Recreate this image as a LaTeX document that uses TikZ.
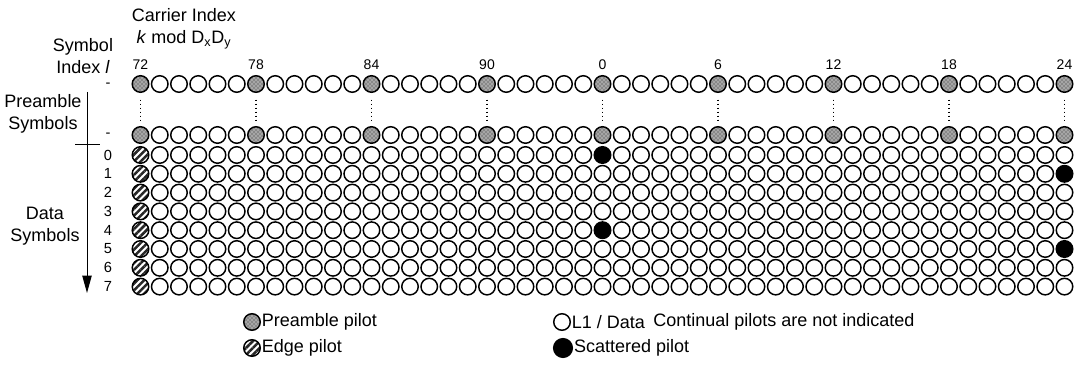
\documentclass[tikz,border=0pt]{standalone}
\usepackage{fontspec}
\setmainfont{Liberation Sans}
\usetikzlibrary{arrows.meta, positioning, patterns, patterns.meta}

\begin{document}
\begin{tikzpicture}[
    x=0.75pt, y=-0.75pt,
    font=\fontsize{13.5}{16.5}\selectfont,
    cell/.style={circle, draw, line width=1.1pt, minimum size=12.4pt, inner sep=0pt},
    prepilot/.style={cell, preaction={fill=gray!70}, pattern=crosshatch dots, pattern color=gray!30!black},
    edgepilot/.style={cell, pattern={Lines[angle=45, distance=3.6pt, line width=1.9pt]}, pattern color=black!85},
    scatpilot/.style={cell, fill=black},
    numlbl/.style={font=\fontsize{10.5}{12}\selectfont, inner sep=1pt},
    rowlbl/.style={font=\fontsize{11}{13}\selectfont, inner sep=1pt},
    dotline/.style={line width=1.1pt, dash pattern=on 1.2pt off 1.8pt, shorten <=5pt, shorten >=4pt},
    arrow/.style={-{Triangle[length=13pt, width=7pt]}, line width=0.75pt}
  ]
    \useasboundingbox (0,0) rectangle (1075,370);

    % preamble symbols
    \foreach \c in {0,...,48} {
      \pgfmathtruncatemacro{\cm}{mod(\c,6)}
      \ifnum\cm=0 \def\st{prepilot}\else\def\st{cell}\fi
      \node[\st] (pt-\c) at (140.5+19.25*\c, 84) {};
      \node[\st] (pb-\c) at (140.5+19.25*\c, 135) {};
    }
    \foreach \c in {0,6,...,48} {
      \pgfmathtruncatemacro{\k}{mod(72+\c,96)}
      \node[numlbl, above=3pt of pt-\c] (cl-\c) {\k};
      \draw[dotline] (pt-\c) -- (pb-\c);
    }
    \node[rowlbl] (rl-pt) at (108,85) {-};
    \node[rowlbl] (rl-pb) at (108,135) {-};

    % data symbols
    \foreach \r in {0,...,7} {
      \pgfmathtruncatemacro{\rq}{mod(\r,4)}
      \node[rowlbl] (rl-\r) at (108, 155+18.8*\r) {\r};
      \foreach \c in {0,...,48} {
        \def\st{cell}
        \ifnum\c=0 \def\st{edgepilot}\fi
        \ifnum\c=24 \ifnum\rq=0 \def\st{scatpilot}\fi\fi
        \ifnum\c=48 \ifnum\rq=1 \def\st{scatpilot}\fi\fi
        \node[\st] (d-\r-\c) at (140.5+19.25*\c, 155+18.8*\r) {};
      }
    }

    % axis labels
    \node[align=center] (carrier) at (184,29) {Carrier Index\\\textit{k} mod D\textsubscript{x}D\textsubscript{y}};
    \node[align=center, inner sep=0pt] (symidx) at (83,56) {Symbol\\Index \textit{l}};
    \node[align=center] (prelbl) at (43,114) {Preamble\\Symbols};
    \node[align=center] (datalbl) at (45,226) {Data\\Symbols};

    \coordinate (axtop) at (87,92);
    \coordinate (axend) at (87,293);
    \coordinate (tickl) at (75,145);
    \coordinate (tickr) at (100,145);
    \draw[arrow] (axtop) -- (axend);
    \draw[line width=0.75pt] (tickl) -- (tickr);

    % legend
    \node[prepilot] (lg-pre) at (252,322) {};
    \node[right=0.5pt of lg-pre, inner sep=0pt] (lt-pre) {Preamble pilot};
    \node[edgepilot] (lg-edge) at (252,348) {};
    \node[right=0.5pt of lg-edge, inner sep=0pt] (lt-edge) {Edge pilot};
    \node[cell] (lg-data) at (562,322) {};
    \node[right=0.5pt of lg-data, inner sep=0pt] (lt-data) {L1 / Data};
    \node[scatpilot, minimum size=14pt] (lg-scat) at (563,348) {};
    \node[right=0.5pt of lg-scat, inner sep=0pt] (lt-scat) {Scattered pilot};
    \node[anchor=west, inner sep=0pt] (note) at (653,322) {Continual pilots are not indicated};
  \end{tikzpicture}
\end{document}
